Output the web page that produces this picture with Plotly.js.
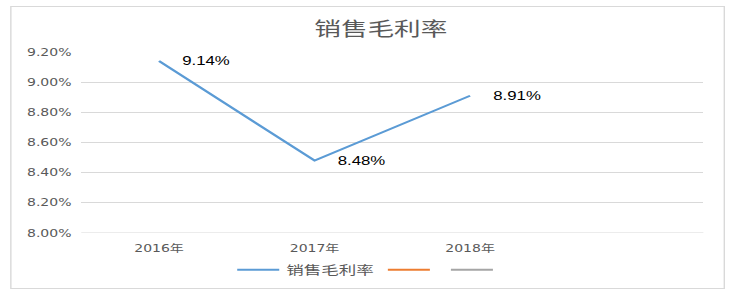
<!DOCTYPE html>
<html>
<head>
<meta charset="utf-8">
<script src="https://cdn.plot.ly/plotly-3.0.1.min.js"></script>
<style>
html,body{margin:0;padding:0;background:#fff;overflow:hidden;}
#wrap{width:737px;height:294px;overflow:hidden;position:relative;}
#chart{width:526px;height:294px;transform:scaleX(1.4011);transform-origin:0 0;}
</style>
</head>
<body>
<div id="wrap"><div id="chart"></div></div>
<script>
// Data
const categories = ['2016年', '2017年', '2018年'];
const grossMargin = [0.0914, 0.0848, 0.0891];
const grossMarginLabels = ['9.14%', '8.48%', '8.91%'];
const series2 = [null, null, null];
const series3 = [null, null, null];
const seriesNames = ['销售毛利率', '', ''];
const yTicks = [0.080, 0.082, 0.084, 0.086, 0.088, 0.090, 0.092];

const tickFont = {family: 'DejaVu Sans, Noto Sans CJK SC, sans-serif', size: 10, color: '#595959'};
const cjk = 'Noto Sans CJK SC, DejaVu Sans, sans-serif';

const traces = [
  {x: categories, y: grossMargin, name: seriesNames[0], type: 'scatter', mode: 'lines',
   line: {color: '#5b9bd5', width: 2}, hoverinfo: 'skip'},
  {x: categories, y: series2, name: seriesNames[1], type: 'scatter', mode: 'lines',
   line: {color: '#ed7d31', width: 2}, showlegend: true, hoverinfo: 'skip'},
  {x: categories, y: series3, name: seriesNames[2], type: 'scatter', mode: 'lines',
   line: {color: '#a5a5a5', width: 2}, showlegend: true, hoverinfo: 'skip'}
];

const annotations = categories.map((c, i) => ({
  x: c, y: grossMargin[i], xref: 'x', yref: 'y', text: grossMarginLabels[i],
  showarrow: false, xanchor: 'left', yanchor: 'middle', xshift: 14,
  font: {family: 'Liberation Sans, Arial, sans-serif', size: 12, color: '#000000'}
}));

const layout = {
  width: 526, height: 294,
  margin: {l: 58, r: 23.5, t: 52, b: 61, pad: 0},
  paper_bgcolor: '#ffffff', plot_bgcolor: '#ffffff',
  title: {text: '销售毛利率', font: {family: cjk, size: 19, color: '#595959'},
          x: 0.4815, xref: 'paper', xanchor: 'center', y: 0.9, yref: 'container', yanchor: 'middle'},
  xaxis: {type: 'category', categoryarray: categories, range: [-0.5, 3.5],
          showgrid: false, zeroline: false, showline: false,
          ticks: '', ticklabelstandoff: 8, tickfont: tickFont, fixedrange: true},
  yaxis: {range: [0.080, 0.092], tickvals: yTicks, tickformat: '.2%',
          showgrid: true, gridcolor: '#d9d9d9', gridwidth: 1, zeroline: false,
          showline: false, ticks: '', tickfont: tickFont, ticklabelstandoff: 6, fixedrange: true},
  showlegend: true,
  legend: {orientation: 'h', x: 0.4624, xanchor: 'center', xref: 'paper',
           y: 0.0816, yref: 'container', yanchor: 'middle',
           font: {family: cjk, size: 12.5, color: '#595959'}, bgcolor: 'rgba(0,0,0,0)',
           itemclick: false, itemdoubleclick: false},
  annotations: annotations,
  shapes: [
    {type: 'rect', xref: 'paper', yref: 'paper', x0: -0.1132, x1: 1.0337, y0: -0.3066, y1: 1.2514,
     line: {color: '#d9d9d9', width: 1}, fillcolor: 'rgba(0,0,0,0)', layer: 'below'},
    {type: 'line', xref: 'paper', yref: 'y', x0: 0, x1: 1, y0: yTicks[0], y1: yTicks[0],
     line: {color: '#d9d9d9', width: 1}, layer: 'below'}
  ]
};

Plotly.newPlot('chart', traces, layout, {staticPlot: true, displayModeBar: false});
</script>
</body>
</html>
